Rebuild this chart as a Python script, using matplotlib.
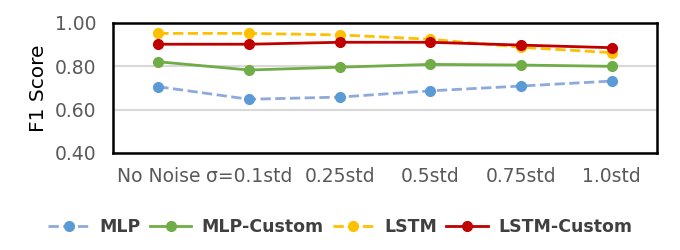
import matplotlib
matplotlib.use("Agg")
import matplotlib.pyplot as plt
from matplotlib.lines import Line2D

categories = ["No Noise", "σ=0.1std", "0.25std", "0.5std", "0.75std", "1.0std"]
mlp = [0.706, 0.648, 0.658, 0.687, 0.709, 0.732]
mlp_custom = [0.821, 0.783, 0.796, 0.809, 0.806, 0.800]
lstm = [0.952, 0.952, 0.945, 0.925, 0.888, 0.863]
lstm_custom = [0.902, 0.902, 0.911, 0.911, 0.898, 0.886]
yticks = [0.40, 0.60, 0.80, 1.00]

fig = plt.figure(figsize=(6.8, 2.5), dpi=100)
ax = fig.add_axes([113/680, 1-153/250, 544/680, 130/250])
x = list(range(len(categories)))

series = [
    ("MLP", mlp, "#5B9BD5", "#8EA9DB", "--"),
    ("MLP-Custom", mlp_custom, "#70AD47", "#70AD47", "-"),
    ("LSTM", lstm, "#FFC000", "#FFC000", "--"),
    ("LSTM-Custom", lstm_custom, "#C00000", "#C00000", "-"),
]
handles = []
for name, vals, mc, lc, ls in series:
    ax.plot(x, vals, color=lc, linestyle=ls, linewidth=2, zorder=3)
    ax.plot(x, vals, linestyle="none", marker="o", markersize=7, color=mc, zorder=4)
    handles.append(Line2D([0], [0], color=lc, linestyle=ls, linewidth=2,
                          marker="o", markersize=7, markerfacecolor=mc, markeredgecolor=mc))

ax.set_xlim(-0.5, len(categories) - 0.5)
ax.set_ylim(0.40, 1.00)
ax.set_yticks(yticks)
ax.set_yticklabels([f"{v:.2f}" for v in yticks])
ax.set_xticks(x)
ax.set_xticklabels(categories)
ax.tick_params(axis="both", length=0, labelsize=13.5, colors="#595959")
ax.tick_params(axis="x", pad=10)
ax.tick_params(axis="y", pad=12)
ax.yaxis.grid(True, color="#D9D9D9", linewidth=1.5, zorder=0)
ax.set_axisbelow(True)
for s in ax.spines.values():
    s.set_linewidth(1.8)
    s.set_color("black")
ax.set_ylabel("F1 Score", fontsize=14.5, color="black", labelpad=5)

leg = fig.legend(handles, [s[0] for s in series], loc="center", bbox_to_anchor=(0.5, 1-227/250),
                 ncol=4, frameon=False, handlelength=2.4, columnspacing=0.5, handletextpad=0.6,
                 prop={"weight": "bold", "size": 12.5})
for t in leg.get_texts():
    t.set_color("#404040")

fig.savefig("out.png", dpi=100)
